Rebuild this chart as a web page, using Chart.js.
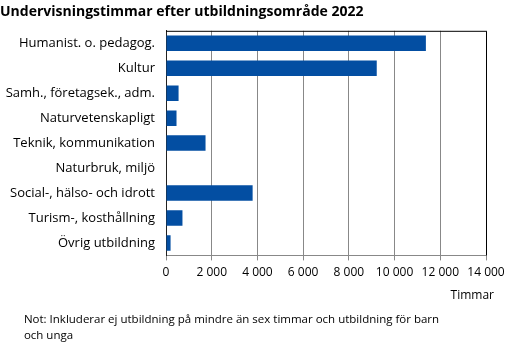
<!DOCTYPE html>
<html>
<head>
<meta charset="utf-8">
<script src="https://cdn.jsdelivr.net/npm/chart.js@4/dist/chart.umd.min.js"></script>
<style>
  html, body { margin: 0; padding: 0; background: #fff; }
</style>
</head>
<body>
<canvas id="myChart" width="511" height="345"></canvas>
<script>
// utbildningsområden och timmar 2022
const categories = [
    'Humanist. o. pedagog.',
    'Kultur',
    'Samh., företagsek., adm.',
    'Naturvetenskapligt',
    'Teknik, kommunikation',
    'Naturbruk, miljö',
    'Social-, hälso- och idrott',
    'Turism-, kosthållning',
    'Övrig utbildning'
];
const timmar = [11370, 9220, 550, 460, 1730, 0, 3790, 720, 200];
const xTicks = [0, 2000, 4000, 6000, 8000, 10000, 12000, 14000];

const fontFamily = "'Open Sans', 'Noto Sans', sans-serif";

// svart ram upptill och till höger, samt enhetstext under x-axeln
const frame = {
    id: 'frame',
    afterDraw(chart) {
        const a = chart.chartArea;
        const ctx = chart.ctx;
        ctx.save();
        ctx.strokeStyle = '#000';
        ctx.lineWidth = 1;
        ctx.beginPath();
        ctx.moveTo(a.left, a.top + 0.5);
        ctx.lineTo(a.right + 0.5, a.top + 0.5);
        ctx.lineTo(a.right + 0.5, a.bottom);
        ctx.stroke();
        ctx.fillStyle = '#000';
        ctx.font = '12px ' + fontFamily;
        ctx.textAlign = 'right';
        ctx.textBaseline = 'middle';
        ctx.fillText('Timmar', a.right + 8, a.bottom + 40);
        ctx.restore();
    }
};

let ctx = document.getElementById('myChart').getContext('2d');
let myChart = new Chart(ctx, {
    type: 'bar',
    data: {
        labels: categories,
        datasets: [{
            label: 'Timmar',
            data: timmar,
            backgroundColor: '#034ea2',
            barPercentage: 0.62,
            categoryPercentage: 1
        }]
    },
    options: {
        indexAxis: 'y',
        responsive: false,
        animation: false,
        layout: { padding: { left: 0, right: 25, top: 0, bottom: 0 } },
        plugins: {
            legend: { display: false },
            tooltip: { enabled: false },
            title: {
                display: true,
                text: 'Undervisningstimmar efter utbildningsområde 2022',
                align: 'start',
                color: '#000',
                font: { family: fontFamily, size: 14, weight: 'bold' },
                padding: { top: 4, bottom: 10 }
            },
            subtitle: {
                display: true,
                position: 'bottom',
                align: 'start',
                text: ['        Not: Inkluderar ej utbildning på mindre än sex timmar och utbildning för barn', '        och unga'],
                color: '#000',
                font: { family: fontFamily, size: 11.5, lineHeight: 1.4 },
                padding: { top: 27, bottom: 1 }
            }
        },
        scales: {
            x: {
                min: 0,
                max: 14000,
                afterBuildTicks: axis => { axis.ticks = xTicks.map(v => ({ value: v })); },
                grid: { color: '#888', lineWidth: 1, tickLength: 5, drawTicks: true },
                border: { color: '#888', width: 1 },
                ticks: {
                    color: '#000',
                    font: { family: fontFamily, size: 12 },
                    padding: 5,
                    maxRotation: 0,
                    autoSkip: false,
                    callback: v => String(v).replace(/\B(?=(\d{3})+(?!\d))/g, ' ')
                }
            },
            y: {
                afterFit: scale => { scale.width = 166; },
                grid: { display: false, tickLength: 0 },
                border: { color: '#222', width: 1 },
                ticks: {
                    color: '#000',
                    autoSkip: false,
                    font: { family: fontFamily, size: 13 },
                    padding: 11
                }
            }
        }
    },
    plugins: [frame]
});
</script>
</body>
</html>
